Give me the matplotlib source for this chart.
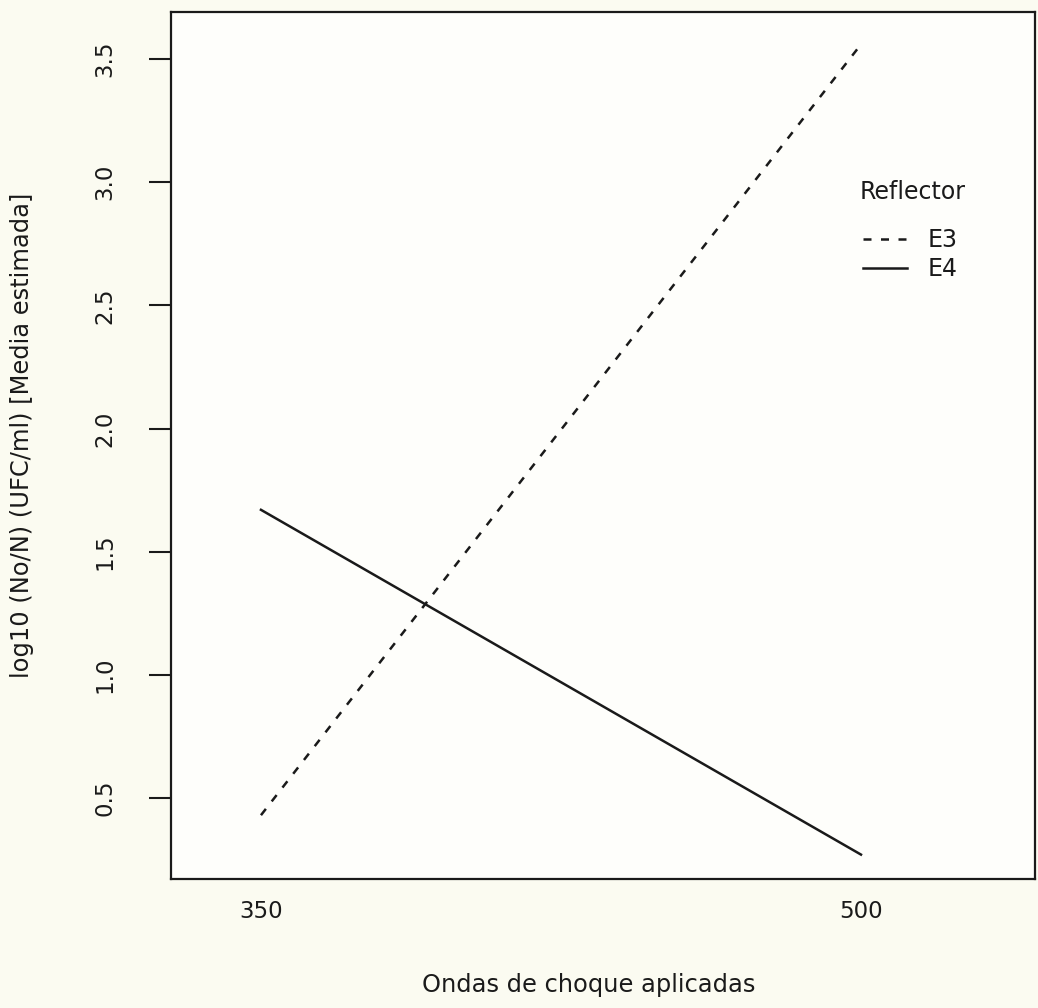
import matplotlib
matplotlib.use("Agg")
import matplotlib.pyplot as plt

# Data
x_labels = ["350", "500"]
series_names = ["E3", "E4"]
e3_values = [0.43, 3.56]
e4_values = [1.67, 0.27]
y_ticks = [0.5, 1.0, 1.5, 2.0, 2.5, 3.0, 3.5]
y_tick_labels = ["0.5", "1.0", "1.5", "2.0", "2.5", "3.0", "3.5"]

plt.rcParams['font.family'] = ['DejaVu Sans']
ink = '#1a1a1a'

fig = plt.figure(figsize=(10.38, 10.08), dpi=100, facecolor='#fbfbf1')
ax = fig.add_axes([0.1647, 0.1280, 0.8324, 0.860])
ax.set_facecolor('#fefefb')

xpos = list(range(1, len(x_labels) + 1))
l3, = ax.plot(xpos, e3_values, color=ink, lw=1.8, linestyle=(0, (3.2, 3.8)), label=series_names[0])
l4, = ax.plot(xpos, e4_values, color=ink, lw=1.8, linestyle='-', label=series_names[1])

ax.set_xlim(0.85, 2.29)
ax.set_ylim(0.171, 3.691)

ax.set_xticks(xpos)
ax.set_xticklabels(x_labels, fontsize=16.5, color=ink)
ax.set_yticks(y_ticks)
ax.set_yticklabels(y_tick_labels, fontsize=16.5, color=ink, rotation=90, va='center')

ax.tick_params(axis='x', length=0, pad=15)
ax.tick_params(axis='y', length=16, width=1.5, pad=23, color=ink)

for sp in ax.spines.values():
    sp.set_linewidth(1.6)
    sp.set_color(ink)

ax.set_xlabel("Ondas de choque aplicadas", fontsize=17.4, color=ink, va='center')
ax.xaxis.set_label_coords(0.483, -0.122)
ax.set_ylabel("log10 (No/N) (UFC/ml) [Media estimada]", fontsize=17.4, color=ink,
              va='center', ha='center')
ax.yaxis.set_label_coords(-0.172, 0.512)

leg = ax.legend(handles=[l3, l4], loc='upper left', bbox_to_anchor=(0.801, 0.751),
                frameon=False, fontsize=17, handlelength=1.86, handletextpad=0.89,
                labelspacing=0.23, borderpad=0, borderaxespad=0)
for t in leg.get_texts():
    t.set_color(ink)
ax.text(0.797, 0.792, "Reflector", transform=ax.transAxes, fontsize=17,
        color=ink, ha='left', va='center')

fig.savefig("out.png", dpi=100, facecolor=fig.get_facecolor())
